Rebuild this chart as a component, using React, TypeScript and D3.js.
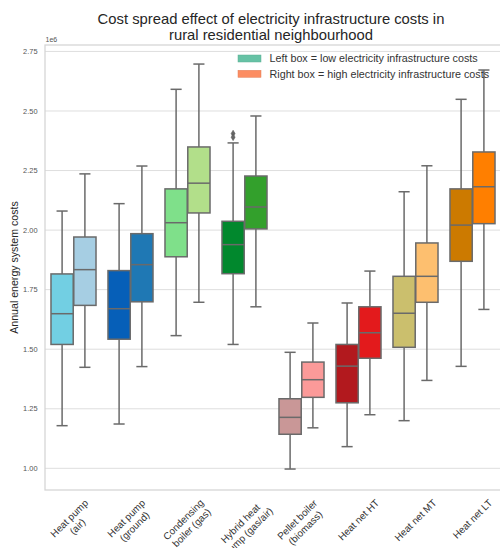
import React, { useEffect, useRef } from 'react';
import * as d3 from 'd3';

const categories = [
  'Heat pump\n(air)',
  'Heat pump\n(ground)',
  'Condensing\nboiler (gas)',
  'Hybrid heat\npump (gas/air)',
  'Pellet boiler\n(biomass)',
  'Heat net HT',
  'Heat net MT',
  'Heat net LT',
];

// Left box: low electricity infrastructure costs (values in 1e6)
const lowWhisLo = [1.179, 1.186, 1.557, 1.52, 0.997, 1.091, 1.2, 1.428];
const lowQ1 = [1.52, 1.542, 1.888, 1.817, 1.143, 1.275, 1.508, 1.869];
const lowMed = [1.649, 1.67, 2.031, 1.939, 1.214, 1.429, 1.651, 2.021];
const lowQ3 = [1.816, 1.83, 2.173, 2.037, 1.292, 1.52, 1.806, 2.173];
const lowWhisHi = [2.08, 2.111, 2.591, 2.366, 1.487, 1.694, 2.161, 2.549];

// Right box: high electricity infrastructure costs
const highWhisLo = [1.424, 1.427, 1.697, 1.678, 1.17, 1.225, 1.369, 1.667];
const highQ1 = [1.684, 1.699, 2.072, 2.005, 1.298, 1.462, 1.697, 2.027];
const highMed = [1.834, 1.855, 2.197, 2.097, 1.372, 1.569, 1.806, 2.182];
const highQ3 = [1.971, 1.985, 2.349, 2.227, 1.446, 1.678, 1.946, 2.328];
const highWhisHi = [2.236, 2.269, 2.697, 2.479, 1.61, 1.828, 2.27, 2.672];

// Outliers (low box of hybrid heat pump)
const outlierCategory = [3, 3];
const outlierValue = [2.405, 2.39];

const lowColors = ['#72cfe3', '#065fb8', '#7fe08a', '#01882d', '#c99797', '#b2191e', '#cbbf6d', '#cc7a00'];
const highColors = ['#a6cee3', '#1f78b4', '#b2df8a', '#33a02c', '#fb9a99', '#e31a1c', '#fdbf6f', '#ff7f00'];

const yTicks = [1.0, 1.25, 1.5, 1.75, 2.0, 2.25, 2.5, 2.75];

const legendLabels = ['Left box = low electricity infrastructure costs', 'Right box = high electricity infrastructure costs'];
const legendColors = ['#66c2a5', '#fc8d62'];

const titleLines = ['Cost spread effect of electricity infrastructure costs in', 'rural residential neighbourhood'];

const FONT = "'Liberation Sans', Arial, sans-serif";

export default function App() {
  const ref = useRef<SVGSVGElement>(null);

  useEffect(() => {
    const svg = d3.select(ref.current);
    svg.selectAll('*').remove();

    const left = 45, right = 501, top = 45, bottom = 490;
    const x = d3.scaleBand<string>().domain(categories).range([left, right]).padding(0);
    const y = d3.scaleLinear().domain([0.909, 2.777]).range([bottom, top]);
    const bw = x.bandwidth();
    const boxW = bw * 0.39;
    const off = bw * 0.2;
    const lineCol = '#6a6a6a';

    svg.append('rect').attr('width', 500).attr('height', 548).attr('fill', '#fff');

    // grid
    svg.append('g').selectAll('line').data(yTicks).join('line')
      .attr('x1', left).attr('x2', right)
      .attr('y1', (d) => y(d)).attr('y2', (d) => y(d))
      .attr('stroke', '#dedede').attr('stroke-width', 1);

    // spines
    svg.append('rect').attr('x', left).attr('y', top).attr('width', right - left).attr('height', bottom - top)
      .attr('fill', 'none').attr('stroke', '#d4d4d4').attr('stroke-width', 1.25);

    const drawBox = (cx: number, lo: number, q1: number, med: number, q3: number, hi: number, color: string) => {
      const g = svg.append('g');
      g.append('line').attr('x1', cx).attr('x2', cx).attr('y1', y(q3)).attr('y2', y(hi))
        .attr('stroke', lineCol).attr('stroke-width', 1.5);
      g.append('line').attr('x1', cx).attr('x2', cx).attr('y1', y(q1)).attr('y2', y(lo))
        .attr('stroke', lineCol).attr('stroke-width', 1.5);
      g.append('line').attr('x1', cx - boxW / 4).attr('x2', cx + boxW / 4).attr('y1', y(hi)).attr('y2', y(hi))
        .attr('stroke', lineCol).attr('stroke-width', 1.5);
      g.append('line').attr('x1', cx - boxW / 4).attr('x2', cx + boxW / 4).attr('y1', y(lo)).attr('y2', y(lo))
        .attr('stroke', lineCol).attr('stroke-width', 1.5);
      g.append('rect').attr('x', cx - boxW / 2).attr('width', boxW)
        .attr('y', y(q3)).attr('height', y(q1) - y(q3))
        .attr('fill', color).attr('stroke', lineCol).attr('stroke-width', 1.5);
      g.append('line').attr('x1', cx - boxW / 2).attr('x2', cx + boxW / 2).attr('y1', y(med)).attr('y2', y(med))
        .attr('stroke', lineCol).attr('stroke-width', 1.5);
    };

    categories.forEach((c, i) => {
      const cx = (x(c) as number) + bw / 2;
      drawBox(cx - off, lowWhisLo[i], lowQ1[i], lowMed[i], lowQ3[i], lowWhisHi[i], lowColors[i]);
      drawBox(cx + off, highWhisLo[i], highQ1[i], highMed[i], highQ3[i], highWhisHi[i], highColors[i]);
    });

    // outliers
    const diamond = d3.symbol().type(d3.symbolDiamond).size(14);
    outlierValue.forEach((v, k) => {
      const c = categories[outlierCategory[k]];
      const cx = (x(c) as number) + bw / 2 - off;
      svg.append('path').attr('d', diamond() as string)
        .attr('transform', `translate(${cx},${y(v)})`)
        .attr('fill', '#676767').attr('stroke', '#555').attr('stroke-width', 0.5);
    });

    // y tick labels
    svg.append('g').selectAll('text').data(yTicks).join('text')
      .attr('x', 37.5).attr('y', (d) => y(d)).attr('dy', '0.35em')
      .attr('text-anchor', 'end').attr('font-family', FONT).attr('font-size', 7.4)
      .attr('fill', '#555').text((d) => d.toFixed(2));

    svg.append('text').attr('x', 45.5).attr('y', 42).attr('font-family', FONT).attr('font-size', 7)
      .attr('fill', '#555').text('1e6');

    // y label
    svg.append('text').attr('transform', `translate(18,${(top + bottom) / 2}) rotate(-90)`)
      .attr('text-anchor', 'middle').attr('font-family', FONT).attr('font-size', 10.6)
      .attr('fill', '#262626').text('Annual energy system costs');

    // x tick labels
    categories.forEach((c) => {
      const cx = (x(c) as number) + bw / 2;
      const g = svg.append('g');
      const t = g.append('text').attr('text-anchor', 'middle').attr('font-family', FONT)
        .attr('font-size', 9.9).attr('fill', '#333');
      c.split('\n').forEach((ln, j) => {
        t.append('tspan').attr('x', 0).attr('y', j * 11.6).text(ln);
      });
      const bb = (t.node() as SVGTextElement).getBBox();
      const w = bb.width, h = bb.height;
      const ext = (w + h) / (2 * Math.SQRT2);
      g.attr('transform', `translate(${cx},${497 + ext}) rotate(-45) translate(${-(bb.x + w / 2)},${-(bb.y + h / 2)})`);
    });

    // legend
    legendLabels.forEach((l, k) => {
      const yy = 55 + k * 15.3;
      svg.append('rect').attr('x', 238).attr('y', yy).attr('width', 23).attr('height', 7)
        .attr('fill', legendColors[k]).attr('stroke', d3.color(legendColors[k])!.darker(0.3).toString()).attr('stroke-width', 0.5);
      svg.append('text').attr('x', 269.5).attr('y', yy + 7.4).attr('font-family', FONT).attr('font-size', 10.75)
        .attr('fill', '#333').text(l);
    });

    // title
    titleLines.forEach((l, k) => {
      svg.append('text').attr('x', 271).attr('y', 24 + k * 16).attr('text-anchor', 'middle')
        .attr('font-family', FONT).attr('font-size', 14.8).attr('fill', '#262626').text(l);
    });
  }, []);

  return (
    <svg ref={ref} width={500} height={548} style={{ position: 'absolute', left: 0, top: 0 }} />
  );
}
